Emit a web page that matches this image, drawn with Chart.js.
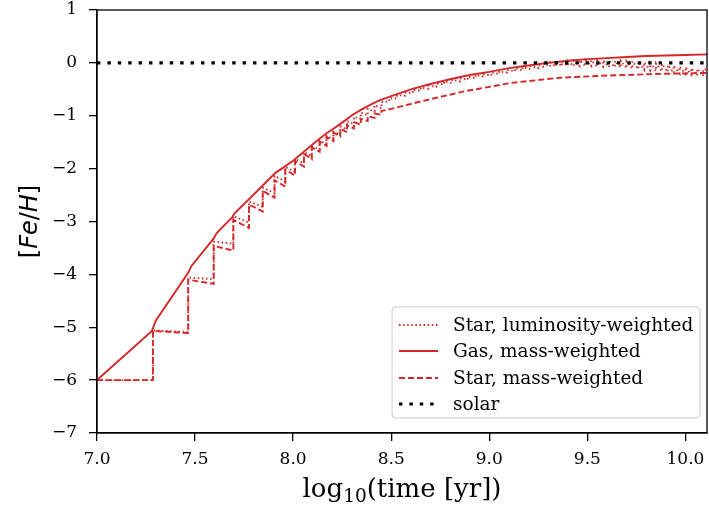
<!DOCTYPE html>
<html>
<head>
<meta charset="utf-8">
<script src="https://cdn.jsdelivr.net/npm/chart.js@4/dist/chart.umd.min.js"></script>
<style>
html,body{margin:0;padding:0;background:#fff;}
#wrap{width:709px;height:510px;}
</style>
</head>
<body>
<div id="wrap"><canvas id="c" width="709" height="510"></canvas></div>
<script>
// ---- data ----
const xTicks = [7.0, 7.5, 8.0, 8.5, 9.0, 9.5, 10.0];
const yTicks = [-7, -6, -5, -4, -3, -2, -1, 0, 1];

const gasTime = [7.0, 7.28, 7.30, 7.465, 7.48, 7.595, 7.61, 7.69, 7.70, 7.78, 7.85, 7.91, 8.0, 8.1, 8.17, 8.2, 8.25, 8.3, 8.35, 8.4, 8.44, 8.5, 8.6, 8.7, 8.8, 8.9, 9.0, 9.1, 9.2, 9.3, 9.4, 9.5, 9.6, 9.7, 9.8, 9.9, 10.0, 10.11];
const gasFeH  = [-6.0, -5.07, -4.87, -3.97, -3.85, -3.32, -3.22, -2.92, -2.85, -2.56, -2.30, -2.08, -1.85, -1.54, -1.33, -1.26, -1.13, -0.99, -0.88, -0.78, -0.71, -0.63, -0.50, -0.40, -0.31, -0.23, -0.17, -0.10, -0.05, 0.0, 0.04, 0.07, 0.09, 0.11, 0.13, 0.14, 0.15, 0.16];

const starMassTime = [7.0, 7.285, 7.285, 7.465, 7.465, 7.595, 7.595, 7.695, 7.695, 7.775, 7.775, 7.845, 7.845, 7.905, 7.905, 7.96, 7.96, 8.01, 8.01, 8.055, 8.055, 8.095, 8.095, 8.135, 8.135, 8.17, 8.17, 8.205, 8.205, 8.24, 8.24, 8.275, 8.275, 8.31, 8.31, 8.345, 8.345, 8.38, 8.38, 8.415, 8.415, 8.45, 8.45, 8.5, 8.65, 8.87, 9.11, 9.36, 9.6, 9.85, 10.11];
const starMassFeH  = [-6.0, -6.0, -5.07, -5.11, -4.10, -4.18, -3.46, -3.55, -2.97, -3.12, -2.68, -2.81, -2.42, -2.55, -2.22, -2.34, -2.02, -2.13, -1.86, -1.96, -1.72, -1.82, -1.60, -1.68, -1.49, -1.57, -1.40, -1.48, -1.32, -1.39, -1.25, -1.31, -1.18, -1.24, -1.12, -1.17, -1.06, -1.10, -1.01, -1.04, -0.96, -0.98, -0.91, -0.87, -0.73, -0.54, -0.38, -0.28, -0.24, -0.21, -0.19];

const starLumTime = [7.0, 7.285, 7.285, 7.465, 7.465, 7.595, 7.595, 7.695, 7.695, 7.775, 7.775, 7.845, 7.845, 7.905, 7.905, 7.96, 7.96, 8.01, 8.01, 8.055, 8.055, 8.095, 8.095, 8.135, 8.135, 8.17, 8.17, 8.205, 8.205, 8.24, 8.24, 8.275, 8.275, 8.31, 8.31, 8.345, 8.345, 8.38, 8.38, 8.415, 8.415, 8.45, 8.45,
  8.49, 8.49, 8.53, 8.53, 8.57, 8.57, 8.61, 8.61, 8.65, 8.65, 8.69, 8.69, 8.73, 8.73, 8.77, 8.77, 8.81, 8.81, 8.85, 8.85, 8.89, 8.89, 8.93, 8.93, 8.97, 8.97, 9.01, 9.01, 9.05, 9.05, 9.09, 9.09, 9.13, 9.13, 9.17, 9.17, 9.21, 9.21, 9.25, 9.25,
  9.28, 9.28, 9.31, 9.31, 9.34, 9.34, 9.37, 9.37, 9.40, 9.40, 9.43, 9.43, 9.46, 9.46, 9.49, 9.49, 9.52, 9.52, 9.55, 9.55, 9.58, 9.58, 9.61, 9.61, 9.64, 9.64, 9.67, 9.67, 9.70, 9.70, 9.73, 9.73, 9.76, 9.76, 9.79, 9.79, 9.82, 9.82, 9.85, 9.85, 9.88, 9.88, 9.91, 9.91, 9.94, 9.94, 9.97, 9.97, 10.00, 10.00, 10.03, 10.03, 10.06, 10.06, 10.09, 10.09, 10.11];
const starLumFeH  = [-6.0, -6.0, -5.06, -5.09, -4.06, -4.09, -3.38, -3.42, -2.90, -3.02, -2.62, -2.72, -2.36, -2.46, -2.14, -2.24, -1.97, -2.06, -1.82, -1.90, -1.69, -1.76, -1.58, -1.64, -1.47, -1.54, -1.38, -1.45, -1.30, -1.36, -1.20, -1.26, -1.10, -1.16, -1.02, -1.06, -0.94, -0.99, -0.87, -0.92, -0.80, -0.86, -0.74,
  -0.73, -0.67, -0.67, -0.61, -0.62, -0.56, -0.57, -0.51, -0.53, -0.47, -0.49, -0.43, -0.45, -0.39, -0.41, -0.35, -0.38, -0.32, -0.35, -0.29, -0.32, -0.26, -0.29, -0.23, -0.26, -0.21, -0.24, -0.18, -0.21, -0.16, -0.18, -0.13, -0.16, -0.10, -0.14, -0.08, -0.12, -0.06, -0.10, -0.04,
  -0.08, -0.01, -0.07, 0.01, -0.07, 0.02, -0.06, 0.03, -0.06, 0.04, -0.06, 0.04, -0.06, 0.05, -0.06, 0.05, -0.06, 0.05, -0.07, 0.05, -0.07, 0.05, -0.08, 0.05, -0.08, 0.04, -0.09, 0.04, -0.10, 0.03, -0.11, 0.03, -0.12, 0.02, -0.13, 0.01, -0.14, 0.0, -0.15, -0.01, -0.16, -0.02, -0.17, -0.04, -0.19, -0.05, -0.20, -0.07, -0.21, -0.08, -0.22, -0.10, -0.24, -0.11, -0.25, -0.12, -0.13];

const solarTime = [7.0, 10.11];
const solarFeH  = [0, 0];

const seriesLabels = ['Star, luminosity-weighted', 'Gas, mass-weighted', 'Star, mass-weighted', 'solar'];

// ---- helpers ----
const RED = '#d62728';
const LW = 1.9;
const pts = (xs, ys) => xs.map((x, i) => ({x: x, y: ys[i]}));
const fmtY = v => (v < 0 ? '\u2212' + Math.abs(v) : String(v));
const noPad = s => { s.paddingTop = 0; s.paddingBottom = 0; s.paddingLeft = 0; s.paddingRight = 0; };

const frameAndLegend = {
  id: 'frameAndLegend',
  afterDraw(chart) {
    const ctx = chart.ctx;
    const a = chart.chartArea;
    ctx.save();
    ctx.strokeStyle = '#000';
    ctx.lineWidth = 1.3;
    ctx.setLineDash([]);
    ctx.strokeRect(a.left, a.top, a.right - a.left, a.bottom - a.top);

    // legend
    const lx = 392, ly = 307, lw = 308, lh = 111, r = 4;
    ctx.beginPath();
    ctx.moveTo(lx + r, ly);
    ctx.arcTo(lx + lw, ly, lx + lw, ly + lh, r);
    ctx.arcTo(lx + lw, ly + lh, lx, ly + lh, r);
    ctx.arcTo(lx, ly + lh, lx, ly, r);
    ctx.arcTo(lx, ly, lx + lw, ly, r);
    ctx.closePath();
    ctx.fillStyle = 'rgba(255,255,255,0.8)';
    ctx.fill();
    ctx.strokeStyle = '#cccccc';
    ctx.lineWidth = 1;
    ctx.stroke();

    const rows = [325, 351, 378, 404];
    const styles = [
      {c: RED, w: LW, d: [1.5, 2.6]},
      {c: RED, w: LW, d: []},
      {c: RED, w: LW, d: [6, 3]},
      {c: '#000', w: 3.2, d: [3.4, 7]}
    ];
    ctx.font = '18.5px "DejaVu Serif"';
    ctx.textBaseline = 'middle';
    ctx.textAlign = 'left';
    rows.forEach((y, i) => {
      const s = styles[i];
      ctx.beginPath();
      ctx.strokeStyle = s.c;
      ctx.lineWidth = s.w;
      ctx.setLineDash(s.d);
      ctx.lineCap = 'butt';
      ctx.moveTo(399, y);
      ctx.lineTo(438, y);
      ctx.stroke();
      ctx.setLineDash([]);
      ctx.fillStyle = '#000';
      ctx.fillText(seriesLabels[i], 453, y + 1);
    });

    // x axis title with subscript
    ctx.fillStyle = '#000';
    ctx.textBaseline = 'alphabetic';
    const big = '26px "DejaVu Serif"', small = '18.5px "DejaVu Serif"';
    const parts = [['log', big, 0], ['10', small, 5], ['(time [yr])', big, 0]];
    let total = 0;
    parts.forEach(p => { ctx.font = p[1]; total += ctx.measureText(p[0]).width; });
    let x = (a.left + a.right) / 2 - total / 2;
    const by = 497;
    parts.forEach(p => { ctx.font = p[1]; ctx.fillText(p[0], x, by + p[2]); x += ctx.measureText(p[0]).width; });

    // y axis title [Fe/H] with italic parts
    ctx.translate(37, (a.top + a.bottom) / 2);
    ctx.rotate(-Math.PI / 2);
    const F = '24px "DejaVu Sans"', FI = 'italic 24px "DejaVu Sans"';
    const yparts = [['[', F], ['Fe', FI], ['/', F], ['H', FI], [']', F]];
    total = 0;
    yparts.forEach(p => { ctx.font = p[1]; total += ctx.measureText(p[0]).width; });
    x = -total / 2;
    yparts.forEach(p => { ctx.font = p[1]; ctx.fillText(p[0], x, 0); x += ctx.measureText(p[0]).width; });
    ctx.restore();
  }
};

new Chart(document.getElementById('c'), {
  type: 'line',
  data: {
    datasets: [
      {label: seriesLabels[3], data: pts(solarTime, solarFeH), borderColor: '#000', borderWidth: 3.2, borderDash: [3.4, 7], borderCapStyle: 'butt', order: 0},
      {label: seriesLabels[2], data: pts(starMassTime, starMassFeH), borderColor: RED, borderWidth: LW, borderDash: [6, 3], order: 1},
      {label: seriesLabels[1], data: pts(gasTime, gasFeH), borderColor: RED, borderWidth: LW, order: 2},
      {label: seriesLabels[0], data: pts(starLumTime, starLumFeH), borderColor: RED, borderWidth: LW, borderDash: [1.5, 2.6], order: 3}
    ]
  },
  options: {
    responsive: false,
    animation: false,
    devicePixelRatio: 1,
    parsing: false,
    elements: {point: {radius: 0}, line: {tension: 0, fill: false}},
    layout: {padding: {top: 10, right: 2, left: 0, bottom: 0}},
    plugins: {legend: {display: false}, tooltip: {enabled: false}, title: {display: false}},
    scales: {
      x: {
        type: 'linear', min: 7.0, max: 10.11,
        afterBuildTicks: s => { s.ticks = xTicks.map(v => ({value: v})); },
        afterFit: s => { s.height = 77; noPad(s); },
        ticks: {callback: v => Number(v).toFixed(1), color: '#000', font: {family: '"DejaVu Serif"', size: 17}, padding: 8, maxRotation: 0, autoSkip: false},
        grid: {drawOnChartArea: false, drawTicks: true, tickLength: 8, color: '#000', lineWidth: 1.3},
        border: {display: true, color: '#000', width: 1.3}
      },
      y: {
        type: 'linear', min: -7, max: 1,
        afterBuildTicks: s => { s.ticks = yTicks.map(v => ({value: v})); },
        afterFit: s => { s.width = 97; noPad(s); },
        ticks: {callback: v => fmtY(v), color: '#000', font: {family: '"DejaVu Serif"', size: 17}, padding: 12, autoSkip: false},
        grid: {drawOnChartArea: false, drawTicks: true, tickLength: 8, color: '#000', lineWidth: 1.3},
        border: {display: true, color: '#000', width: 1.3}
      }
    }
  },
  plugins: [frameAndLegend]
});
</script>
</body>
</html>
